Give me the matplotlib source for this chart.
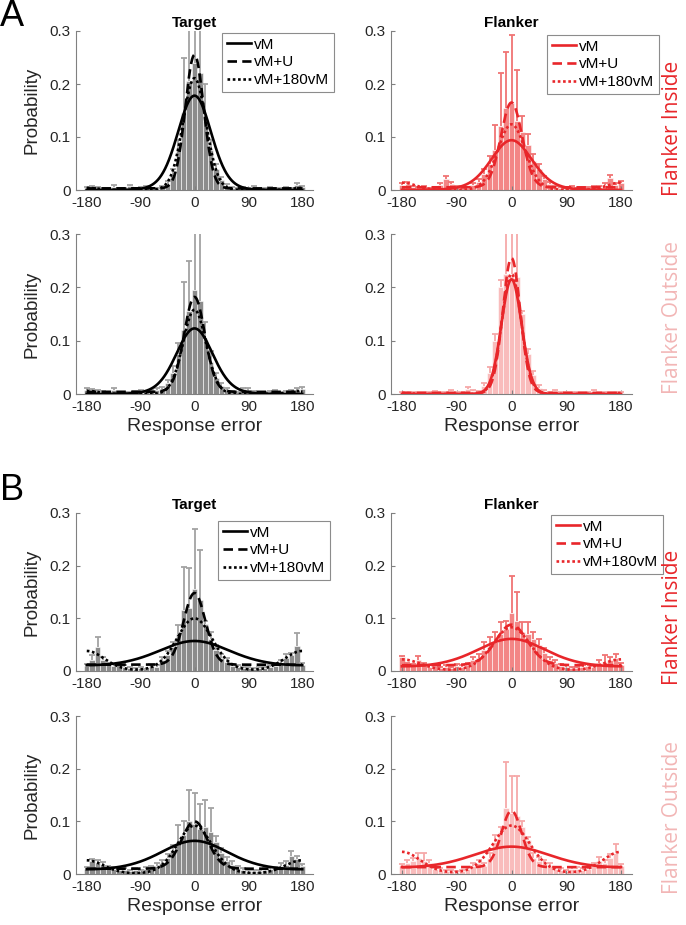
import numpy as np
import matplotlib
matplotlib.use('Agg')
import matplotlib.pyplot as plt

# ---------------- data ----------------
bins = np.arange(-180, 181, 9)          # bin centres (deg), 41 bins
x_ticks = [-180, -90, 0, 90, 180]
y_ticks = [0, 0.1, 0.2, 0.3]
y_ticklabels = ["0", "0.1", "0.2", "0.3"]
legend_labels = ["vM", "vM+U", "vM+180vM"]

# Experiment A, Target, Flanker Inside
a_tin_h = [0.004, 0.006, 0.004, 0.002, 0.003, 0.006, 0.002, 0.003, 0.007, 0.003, 0.004,
           0.006, 0.002, 0.003, 0.005, 0.012, 0.030, 0.075, 0.145, 0.205, 0.240,
           0.220, 0.130, 0.075, 0.040, 0.018, 0.008, 0.004, 0.003, 0.004, 0.002,
           0.005, 0.003, 0.002, 0.004, 0.003, 0.002, 0.004, 0.003, 0.009, 0.005]
a_tin_e = [0.002, 0.002, 0.002, 0.001, 0.001, 0.003, 0.001, 0.001, 0.003, 0.001, 0.002,
           0.002, 0.001, 0.001, 0.002, 0.005, 0.010, 0.020, 0.105, 0.120, 0.100,
           0.100, 0.070, 0.020, 0.010, 0.006, 0.003, 0.002, 0.001, 0.002, 0.001,
           0.002, 0.001, 0.001, 0.002, 0.001, 0.001, 0.002, 0.001, 0.004, 0.002]
# Experiment A, Flanker, Flanker Inside
a_fin_h = [0.010, 0.012, 0.006, 0.004, 0.005, 0.003, 0.002, 0.010, 0.020, 0.012, 0.006,
           0.005, 0.004, 0.010, 0.015, 0.030, 0.050, 0.075, 0.120, 0.155, 0.165,
           0.130, 0.110, 0.085, 0.055, 0.040, 0.020, 0.012, 0.006, 0.004, 0.003,
           0.005, 0.002, 0.003, 0.004, 0.005, 0.006, 0.010, 0.022, 0.010, 0.013]
a_fin_e = [0.004, 0.004, 0.002, 0.002, 0.002, 0.001, 0.001, 0.004, 0.006, 0.004, 0.002,
           0.002, 0.002, 0.004, 0.006, 0.010, 0.015, 0.048, 0.100, 0.105, 0.127,
           0.096, 0.030, 0.020, 0.012, 0.010, 0.006, 0.004, 0.002, 0.002, 0.001,
           0.002, 0.001, 0.001, 0.002, 0.002, 0.002, 0.004, 0.006, 0.004, 0.004]
# Experiment A, Target, Flanker Outside
a_tout_h = [0.008, 0.007, 0.006, 0.004, 0.003, 0.008, 0.002, 0.003, 0.002, 0.004, 0.005,
            0.003, 0.006, 0.008, 0.010, 0.020, 0.040, 0.075, 0.120, 0.155, 0.195,
            0.175, 0.100, 0.060, 0.030, 0.015, 0.008, 0.004, 0.003, 0.009, 0.008,
            0.004, 0.002, 0.003, 0.004, 0.005, 0.003, 0.004, 0.006, 0.008, 0.010]
a_tout_e = [0.003, 0.003, 0.002, 0.002, 0.001, 0.003, 0.001, 0.001, 0.001, 0.002, 0.002,
            0.001, 0.002, 0.003, 0.004, 0.007, 0.012, 0.020, 0.090, 0.095, 0.120,
            0.130, 0.035, 0.020, 0.010, 0.006, 0.003, 0.002, 0.001, 0.003, 0.003,
            0.002, 0.001, 0.001, 0.002, 0.002, 0.001, 0.002, 0.002, 0.003, 0.004]
# Experiment A, Flanker, Flanker Outside
a_fout_h = [0.002, 0.003, 0.002, 0.002, 0.003, 0.002, 0.004, 0.002, 0.003, 0.006, 0.003,
            0.002, 0.010, 0.006, 0.004, 0.015, 0.040, 0.100, 0.200, 0.225, 0.225,
            0.220, 0.150, 0.075, 0.035, 0.012, 0.005, 0.002, 0.006, 0.003, 0.002,
            0.003, 0.002, 0.003, 0.002, 0.005, 0.003, 0.002, 0.003, 0.002, 0.002]
a_fout_e = [0.001, 0.001, 0.001, 0.001, 0.001, 0.001, 0.002, 0.001, 0.001, 0.002, 0.001,
            0.001, 0.003, 0.002, 0.002, 0.005, 0.010, 0.012, 0.014, 0.100, 0.100,
            0.100, 0.005, 0.010, 0.008, 0.004, 0.002, 0.001, 0.002, 0.001, 0.001,
            0.001, 0.001, 0.001, 0.001, 0.002, 0.001, 0.001, 0.001, 0.001, 0.001]

# Experiment B, Target, Flanker Inside
b_tin_h = [0.010, 0.020, 0.045, 0.020, 0.012, 0.010, 0.012, 0.008, 0.005, 0.004, 0.006,
           0.003, 0.010, 0.008, 0.020, 0.030, 0.045, 0.070, 0.115, 0.120, 0.155,
           0.135, 0.090, 0.060, 0.040, 0.025, 0.018, 0.010, 0.008, 0.006, 0.005,
           0.004, 0.006, 0.005, 0.008, 0.010, 0.015, 0.025, 0.030, 0.048, 0.012]
b_tin_e = [0.004, 0.010, 0.020, 0.006, 0.004, 0.004, 0.004, 0.003, 0.002, 0.002, 0.002,
           0.001, 0.004, 0.003, 0.006, 0.008, 0.010, 0.018, 0.082, 0.076, 0.115,
           0.095, 0.004, 0.015, 0.010, 0.008, 0.006, 0.004, 0.003, 0.002, 0.002,
           0.002, 0.002, 0.002, 0.003, 0.004, 0.005, 0.008, 0.004, 0.024, 0.004]
# Experiment B, Flanker, Flanker Inside
b_fin_h = [0.027, 0.012, 0.010, 0.020, 0.012, 0.008, 0.010, 0.006, 0.008, 0.005, 0.010,
           0.008, 0.012, 0.020, 0.025, 0.040, 0.045, 0.055, 0.070, 0.080, 0.110,
           0.095, 0.075, 0.070, 0.060, 0.050, 0.035, 0.020, 0.015, 0.010, 0.008,
           0.006, 0.005, 0.008, 0.010, 0.008, 0.015, 0.018, 0.020, 0.025, 0.012]
b_fin_e = [0.002, 0.004, 0.004, 0.008, 0.004, 0.003, 0.004, 0.002, 0.003, 0.002, 0.004,
           0.003, 0.004, 0.006, 0.008, 0.015, 0.020, 0.020, 0.023, 0.015, 0.070,
           0.055, 0.018, 0.023, 0.015, 0.010, 0.008, 0.006, 0.005, 0.004, 0.003,
           0.002, 0.002, 0.003, 0.004, 0.003, 0.005, 0.012, 0.006, 0.008, 0.004]
# Experiment B, Target, Flanker Outside
b_tout_h = [0.010, 0.025, 0.020, 0.018, 0.012, 0.010, 0.008, 0.008, 0.006, 0.008, 0.006,
            0.010, 0.012, 0.015, 0.020, 0.030, 0.045, 0.060, 0.075, 0.100, 0.095,
            0.085, 0.090, 0.080, 0.060, 0.040, 0.025, 0.018, 0.012, 0.008, 0.006,
            0.005, 0.006, 0.008, 0.010, 0.010, 0.015, 0.018, 0.035, 0.028, 0.015]
b_tout_e = [0.003, 0.003, 0.006, 0.005, 0.004, 0.003, 0.003, 0.003, 0.002, 0.003, 0.002,
            0.003, 0.004, 0.005, 0.006, 0.008, 0.010, 0.033, 0.025, 0.060, 0.058,
            0.048, 0.050, 0.045, 0.012, 0.010, 0.008, 0.006, 0.004, 0.003, 0.002,
            0.002, 0.002, 0.003, 0.003, 0.003, 0.005, 0.006, 0.008, 0.007, 0.004]
# Experiment B, Flanker, Flanker Outside
b_fout_h = [0.015, 0.020, 0.025, 0.030, 0.025, 0.020, 0.010, 0.008, 0.005, 0.006, 0.004,
            0.006, 0.010, 0.015, 0.020, 0.015, 0.030, 0.060, 0.080, 0.125, 0.115,
            0.110, 0.090, 0.065, 0.030, 0.025, 0.020, 0.015, 0.010, 0.008, 0.006,
            0.010, 0.010, 0.008, 0.010, 0.015, 0.025, 0.020, 0.030, 0.040, 0.015]
b_fout_e = [0.004, 0.006, 0.006, 0.010, 0.015, 0.006, 0.003, 0.003, 0.002, 0.002, 0.002,
            0.002, 0.003, 0.005, 0.006, 0.005, 0.010, 0.015, 0.010, 0.087, 0.072,
            0.077, 0.010, 0.005, 0.010, 0.008, 0.006, 0.005, 0.003, 0.003, 0.002,
            0.003, 0.003, 0.003, 0.003, 0.005, 0.008, 0.006, 0.008, 0.017, 0.004]

# fitted model parameters: [a (centre amp), kappa, b (180 amp), c (uniform)]
a_tin_fits = [[0.178, 4.3, 0.0, 0.0], [0.252, 14.0, 0.0, 0.003], [0.211, 9.0, 0.004, 0.0]]
a_fin_fits = [[0.094, 3.0, 0.0, 0.0], [0.160, 11.0, 0.0, 0.005], [0.124, 6.5, 0.014, 0.0]]
a_tout_fits = [[0.123, 3.6, 0.0, 0.0], [0.178, 11.0, 0.0, 0.004], [0.158, 9.0, 0.006, 0.0]]
a_fout_fits = [[0.215, 12.0, 0.0, 0.0], [0.253, 16.0, 0.0, 0.002], [0.225, 13.0, 0.002, 0.0]]
b_tin_fits = [[0.057, 0.82, 0.0, 0.0], [0.136, 10.0, 0.0, 0.012], [0.100, 3.8, 0.038, 0.0]]
b_fin_fits = [[0.061, 0.96, 0.0, 0.0], [0.077, 5.0, 0.0, 0.011], [0.083, 3.5, 0.022, 0.0]]
b_tout_fits = [[0.063, 0.97, 0.0, 0.0], [0.090, 7.0, 0.0, 0.010], [0.092, 4.0, 0.026, 0.0]]
b_fout_fits = [[0.052, 0.69, 0.0, 0.0], [0.107, 12.0, 0.0, 0.013], [0.092, 3.5, 0.042, 0.0]]

# ---------------- style ----------------
GRAY_BAR = '#8c8c8c'
GRAY_ERR = '#a3a3a3'
RED_LINE = '#e8262a'
RED_BAR = '#f38686'
RED_ERR = '#f07474'
PINK_BAR = '#f9bcbc'
PINK_ERR = '#f6a9a9'
INSIDE_TXT = '#e8262a'
OUTSIDE_TXT = '#f2b6b6'
SPINE = '#808080'
TXT = '#262626'

W, H = 686, 925
fig = plt.figure(figsize=(W / 100, H / 100), dpi=100)


def pos(x0, x1, ytop, ybot):
    return [x0 / W, 1 - ybot / H, (x1 - x0) / W, (ybot - ytop) / H]


def model(theta, p):
    a, k, b, c = p
    t = np.deg2rad(theta)
    return c + a * np.exp(k * (np.cos(t) - 1)) + b * np.exp(k * (-np.cos(t) - 1))


theta = np.linspace(-180, 180, 721)
styles = [dict(ls='-'), dict(ls=(0, (3.6, 2.0))), dict(ls=(0, (1.0, 1.0)))]


def panel(rect, h, e, fits, bar_c, err_c, line_c, title=None, xlabel=False,
          ylabel=True, legend_at=None):
    ax = fig.add_axes(rect)
    ax.bar(bins, h, width=9, color=bar_c, edgecolor='white', linewidth=0.4, zorder=1)
    h_arr = np.asarray(h)
    top = h_arr + np.asarray(e)
    ax.vlines(bins, h_arr, top, color=err_c, lw=1.3, zorder=2)
    ax.plot(bins, top, ls='none', marker='_', ms=4, mew=1.3, color=err_c, zorder=2)
    handles = []
    for p, st, lab in zip(fits, styles, legend_labels):
        ln, = ax.plot(theta, model(theta, p), color=line_c, lw=1.9, label=lab,
                      zorder=3, **st)
        handles.append(ln)
    ax.set_xlim(-198, 198)
    ax.set_ylim(0, 0.3)
    ax.set_xticks(x_ticks)
    ax.set_xticklabels([str(v) for v in x_ticks])
    ax.set_yticks(y_ticks)
    ax.set_yticklabels(y_ticklabels)
    for s in ['top', 'right']:
        ax.spines[s].set_visible(False)
    for s in ['left', 'bottom']:
        ax.spines[s].set_color(SPINE)
        ax.spines[s].set_linewidth(0.8)
    ax.tick_params(direction='in', length=3, width=0.8, color=SPINE,
                   labelsize=11, labelcolor=TXT, pad=4)
    for lab in ax.get_xticklabels() + ax.get_yticklabels():
        lab.set_family('Liberation Sans')
    if title:
        ax.set_title(title, fontsize=11, fontweight='bold', family='Liberation Sans',
                     pad=3, color='black')
    if ylabel:
        ax.set_ylabel('Probability', fontsize=13.5, family='Liberation Sans',
                      color=TXT, labelpad=6)
    if xlabel:
        ax.set_xlabel('Response error', fontsize=14, family='Liberation Sans',
                      color=TXT, labelpad=3)
    if legend_at:
        leg = ax.legend(handles=handles, loc='upper left',
                        bbox_to_anchor=(legend_at[0] / W, 1 - legend_at[1] / H),
                        bbox_transform=fig.transFigure,
                        prop={'family': 'Liberation Sans', 'size': 11},
                        frameon=True, fancybox=False, framealpha=1,
                        edgecolor='#8c8c8c', handlelength=1.6, handletextpad=0.2,
                        borderpad=0.3, labelspacing=0.25, borderaxespad=0)
        leg.get_frame().set_linewidth(0.8)
    return ax


LX = (76, 313)
RX = (391, 632)

panel(pos(*LX, 31, 190), a_tin_h, a_tin_e, a_tin_fits, GRAY_BAR, GRAY_ERR, 'black',
      title='Target', legend_at=(222, 33))
panel(pos(*RX, 31, 190), a_fin_h, a_fin_e, a_fin_fits, RED_BAR, RED_ERR, RED_LINE,
      title='Flanker', ylabel=False, legend_at=(547, 35))
panel(pos(*LX, 234, 394), a_tout_h, a_tout_e, a_tout_fits, GRAY_BAR, GRAY_ERR, 'black',
      xlabel=True)
panel(pos(*RX, 234, 394), a_fout_h, a_fout_e, a_fout_fits, PINK_BAR, PINK_ERR, RED_LINE,
      xlabel=True, ylabel=False)

panel(pos(*LX, 513, 671), b_tin_h, b_tin_e, b_tin_fits, GRAY_BAR, GRAY_ERR, 'black',
      title='Target', legend_at=(218, 521))
panel(pos(*RX, 513, 671), b_fin_h, b_fin_e, b_fin_fits, RED_BAR, RED_ERR, RED_LINE,
      title='Flanker', ylabel=False, legend_at=(551, 515))
panel(pos(*LX, 716, 874), b_tout_h, b_tout_e, b_tout_fits, GRAY_BAR, GRAY_ERR, 'black',
      xlabel=True)
panel(pos(*RX, 716, 874), b_fout_h, b_fout_e, b_fout_fits, PINK_BAR, PINK_ERR, RED_LINE,
      xlabel=True, ylabel=False)

# panel letters
fig.text(12 / W, 1 - 16 / H, 'A', fontsize=26, family='Liberation Sans',
         ha='center', va='center', color='black')
fig.text(12 / W, 1 - 491 / H, 'B', fontsize=26, family='Liberation Sans',
         ha='center', va='center', color='black')

# row labels on the right
for yc, txt, col in [(128, 'Flanker Inside', INSIDE_TXT),
                     (317, 'Flanker Outside', OUTSIDE_TXT),
                     (617, 'Flanker Inside', INSIDE_TXT),
                     (818, 'Flanker Outside', OUTSIDE_TXT)]:
    fig.text(673 / W, 1 - yc / H, txt, rotation=90, fontsize=15, family='Open Sans',
             ha='center', va='center', color=col)

fig.savefig('out.png', dpi=100)
